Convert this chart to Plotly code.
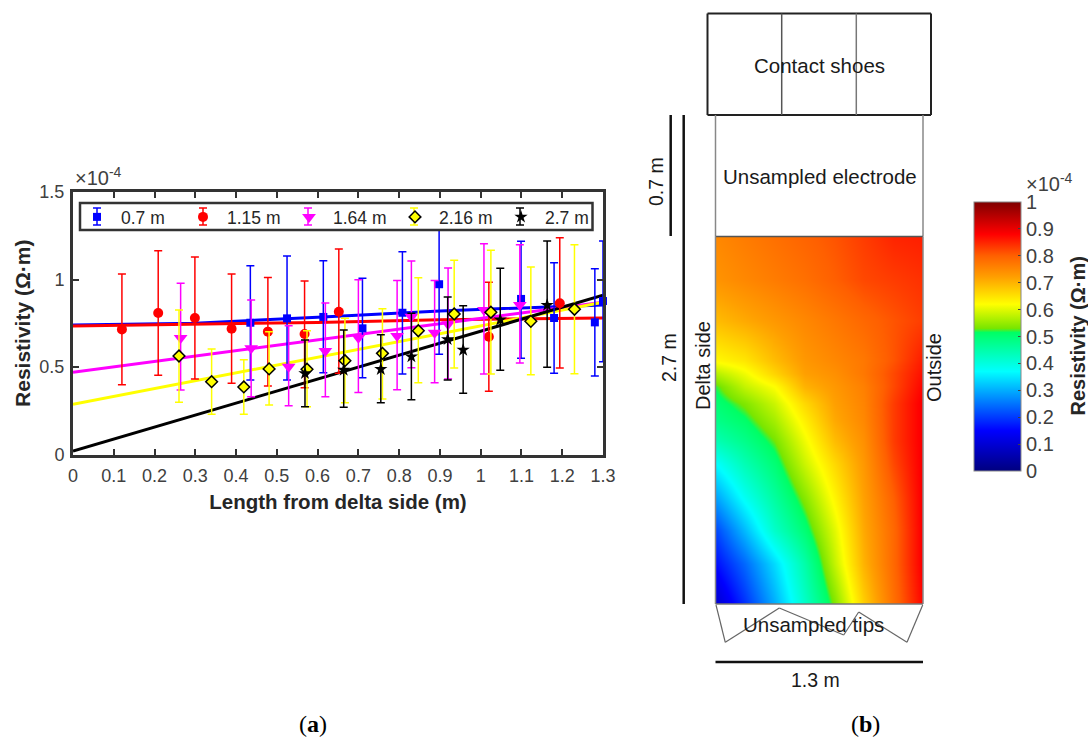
import plotly.graph_objects as go

W, H = 1088, 737
fx = lambda p: p / W
fy = lambda p: 1 - p / H

names = ["0.7 m", "1.15 m", "1.64 m", "2.16 m", "2.7 m"]
colors = ["#0000ff", "#ff0000", "#ff00ff", "#ffff00", "#000000"]

x_07 = [.435, .525, .614, .71, .808, .898, 1.099, 1.18, 1.28, 1.30]
y_07 = [.753, .778, .786, .721, .81, .973, .889, .78, .755, .877]
hi_07 = [1.079, 1.134, 1.107, 1.007, 1.159, 1.373, 1.218, 1.096, 1.062, 1.22]
lo_07 = [.426, .426, .467, .439, .46, .573, .55, .464, .449, .53]

x_115 = [.12, .209, .299, .389, .478, .568, .652, 1.02, 1.194]
y_115 = [.715, .809, .78, .719, .702, .689, .816, .673, .864]
hi_115 = [1.031, 1.165, 1.129, 1.031, 1.012, .991, 1.174, .984, 1.239]
lo_115 = [.399, .453, .431, .407, .391, .382, .464, .361, .494]

x_164 = [.264, .437, .529, .619, .70, .795, .83, .887, .92, 1.008, 1.096]
y_164 = [.666, .607, .502, .591, .667, .677, .787, .696, .744, .826, .854]
hi_164 = [.979, .883, .736, .866, .999, .995, 1.106, .995, 1.066, 1.205, 1.199]
lo_164 = [.369, .33, .279, .33, .355, .37, .496, .41, .431, .46, .523]

x_216 = [.26, .34, .419, .481, .574, .667, .759, .847, .935, 1.025, 1.123, 1.23]
y_216 = [.563, .416, .386, .489, .487, .536, .578, .707, .803, .813, .761, .83]
hi_216 = [.826, .603, .542, .702, .707, .778, .833, 1.01, 1.11, 1.167, 1.071, 1.199]
lo_216 = [.298, .23, .23, .283, .273, .296, .317, .41, .494, .46, .456, .462]

x_27 = [.569, .664, .755, .83, .919, .957, 1.048, 1.163]
y_27 = [.464, .483, .487, .559, .658, .597, .77, .854]
hi_27 = [.654, .711, .685, .807, .9, .85, 1.064, 1.22]
lo_27 = [.273, .27, .296, .313, .426, .35, .481, .498]

line_x = [0, .3, .6, .9, 1.3]
line_07 = [.74, .75, .785, .82, .855]
line_115 = [.735, .745, .755, .77, .78]
line_164 = [.47, .562, .654, .746, .87]
line_216 = [.287, .422, .556, .69, .87]
line_27 = [.02, .226, .432, .638, .91]

x_ticks = [0, .1, .2, .3, .4, .5, .6, .7, .8, .9, 1, 1.1, 1.2, 1.3]
x_labels = ["0", "0.1", "0.2", "0.3", "0.4", "0.5", "0.6", "0.7", "0.8", "0.9", "1", "1.1", "1.2", "1.3"]
y_ticks = [0, .5, 1, 1.5]
y_labels = ["0", "0.5", "1", "1.5"]

# field of resistivity (x 1e-4), rows from the top of the sampled electrode (0.7 m) downward
heat_x = [0, .184, .371, .557, .743, .93, 1.117, 1.3]
heat_y = [.7, .936, 1.155, 1.373, 1.445, 1.518, 1.609, 1.7, 1.809, 1.936, 2.118, 2.3, 2.482, 2.7]
row_0 = [.75, .765, .78, .795, .81, .83, .85, .855]
row_1 = [.735, .75, .765, .78, .80, .82, .83, .84]
row_2 = [.69, .71, .73, .75, .77, .79, .81, .83]
row_3 = [.625, .645, .69, .73, .75, .77, .81, .86]
row_4 = [.57, .61, .665, .72, .74, .77, .82, .87]
row_5 = [.52, .58, .62, .70, .73, .76, .82, .88]
row_6 = [.50, .535, .585, .66, .72, .755, .83, .89]
row_7 = [.48, .51, .56, .635, .71, .75, .83, .89]
row_8 = [.44, .48, .53, .61, .69, .74, .83, .89]
row_9 = [.37, .44, .50, .585, .66, .73, .82, .89]
row_10 = [.29, .38, .46, .54, .63, .72, .80, .89]
row_11 = [.21, .31, .42, .50, .60, .71, .79, .89]
row_12 = [.16, .24, .34, .45, .58, .70, .79, .89]
row_13 = [.09, .19, .30, .42, .535, .67, .78, .88]
heat_z = [row_0, row_1, row_2, row_3, row_4, row_5, row_6, row_7, row_8, row_9, row_10, row_11, row_12, row_13]
bar_ticks = [0, .1, .2, .3, .4, .5, .6, .7, .8, .9, 1]
bar_labels = ["0", "0.1", "0.2", "0.3", "0.4", "0.5", "0.6", "0.7", "0.8", "0.9", "1"]
scale = [[0, "#00007f"], [.15, "#0000ff"], [.37, "#00ffff"], [.515, "#00ff64"], [.53, "#78e600"],
         [.62, "#ffff00"], [.72, "#ffa000"], [.80, "#ff6000"], [.88, "#ff0000"], [1, "#7f0000"]]

series = [
    (x_07, y_07, hi_07, lo_07, line_07, "square", 8, "#0000ff", 0),
    (x_115, y_115, hi_115, lo_115, line_115, "circle", 10, "#ff0000", 0),
    (x_164, y_164, hi_164, lo_164, line_164, "triangle-down", 12, "#ff00ff", 0),
    (x_216, y_216, hi_216, lo_216, line_216, "diamond", 9, "#ffff00", 1.5),
    (x_27, y_27, hi_27, lo_27, line_27, "star", 10, "#000000", 0),
]

fig = go.Figure()
for i, (xs, ys, hi, lo, ln, sym, size, mc, lw) in enumerate(series):
    fig.add_trace(go.Scatter(x=line_x, y=ln, mode="lines", showlegend=False, hoverinfo="skip",
                             line=dict(color=colors[i], width=3), xaxis="x", yaxis="y"))
for i, (xs, ys, hi, lo, ln, sym, size, mc, lw) in enumerate(series):
    fig.add_trace(go.Scatter(
        x=xs, y=ys, name=names[i], mode="markers", cliponaxis=False, xaxis="x", yaxis="y",
        marker=dict(symbol=sym, size=size, color=mc, line=dict(color="#000000", width=lw)),
        error_y=dict(type="data", symmetric=False, array=[h - v for h, v in zip(hi, ys)],
                     arrayminus=[v - l for v, l in zip(ys, lo)],
                     color=colors[i], thickness=1.5, width=4),
    ))

fig.add_trace(go.Heatmap(
    x=heat_x, y=heat_y, z=heat_z, zmin=0, zmax=1, zsmooth="best", colorscale=scale,
    xaxis="x2", yaxis="y2", showlegend=False,
    colorbar=dict(x=fx(974), xanchor="left", xpad=0, ypad=0, y=fy(336.5), yanchor="middle",
                  thicknessmode="pixels", thickness=47, lenmode="pixels", len=269,
                  tickmode="array", tickvals=bar_ticks, ticktext=bar_labels,
                  ticks="inside", ticklen=3, tickcolor="#404040",
                  tickfont=dict(family="Liberation Sans", size=20, color="#404040"),
                  outlinecolor="#888888", outlinewidth=1),
))

shapes = []
def line(x0, y0, x1, y1, color="#888888", width=1.5):
    shapes.append(dict(type="line", xref="paper", yref="paper", layer="above",
                       x0=fx(x0), y0=fy(y0), x1=fx(x1), y1=fy(y1),
                       line=dict(color=color, width=width)))

# legend frame and error-bar glyphs
shapes.append(dict(type="rect", xref="paper", yref="paper", layer="above",
                   x0=fx(80), y0=fy(203), x1=fx(592.5), y1=fy(230),
                   fillcolor="#ffffff", line=dict(color="#333333", width=2.5)))
for cx, c in zip([97, 203, 308, 414, 520], colors):
    line(cx, 208, cx, 225, c, 1.5)
    line(cx - 4, 208, cx + 4, 208, c, 1.5)
    line(cx - 4, 225, cx + 4, 225, c, 1.5)

# schematic
for seg in [(707.5, 13.5, 931, 13.5), (707.5, 115, 931, 115), (707.5, 13.5, 707.5, 115), (931, 13.5, 931, 115)]:
    line(*seg, "#222222", 2)
line(781.7, 13.5, 781.7, 115, "#555555", 1.5)
line(856.3, 13.5, 856.3, 115, "#777777", 1.5)
line(715.5, 115, 715.5, 236.5)
line(923, 115, 923, 236.5)
line(715.5, 236.5, 923, 236.5, "#555555", 1.5)
line(715.5, 236.5, 715.5, 604)
line(923, 236.5, 923, 604)
line(715.5, 604, 923, 604, "#777777", 1.5)
tips = [(716, 605), (725.3, 642.3), (779.3, 608), (843.7, 635), (858.7, 612), (907, 642.3), (922.7, 605)]
for a, b in zip(tips[:-1], tips[1:]):
    line(*a, *b, "#666666", 1.2)
line(670.7, 115, 670.7, 236, "#111111", 2.5)
line(683.7, 115, 683.7, 604, "#111111", 2.5)
line(715.5, 662, 923, 662, "#111111", 2.5)

def text(t, x, y, size=20.5, rot=0, fam="Liberation Sans", color="#1a1a1a"):
    return dict(text=t, x=fx(x), y=fy(y), xref="paper", yref="paper", showarrow=False, textangle=rot,
                xanchor="center", yanchor="middle", font=dict(family=fam, size=size, color=color))

annotations = [
    text("Contact shoes", 819, 65),
    text("Unsampled electrode", 820, 176),
    text("Unsampled tips", 813, 624),
    text("1.3 m", 815, 680, 19.5),
    text("0.7 m", 656, 182, 19.5, -90),
    text("2.7 m", 669, 358, 19.5, -90),
    text("Delta side", 703, 366, 20, -90),
    text("Outside", 934, 368, 20, -90),
    text("(<b>a</b>)", 313, 724, 24, 0, "Liberation Serif", "#000000"),
    text("(<b>b</b>)", 865, 724, 24, 0, "Liberation Serif", "#000000"),
    text("×10<sup>-4</sup>", 98, 176, 20, 0, color="#404040"),
    text("×10<sup>-4</sup>", 1049, 183, 20, 0, color="#404040"),
    text("<b>Resistivity (Ω·m)</b>", 1077, 336.5, 20, -90, color="#262626"),
]

tickfont = dict(family="Liberation Sans", size=18, color="#404040")
fig.update_layout(
    width=W, height=H, autosize=False,
    margin=dict(l=0, r=0, t=0, b=0, autoexpand=False), paper_bgcolor="#ffffff", plot_bgcolor="#ffffff",
    xaxis=dict(domain=[fx(73), fx(603)], range=[0, 1.3], tickmode="array", tickvals=x_ticks, ticktext=x_labels,
               ticks="inside", ticklen=6, tickwidth=1.5, tickcolor="#333333", showline=True, linewidth=3,
               linecolor="#333333", mirror="ticks", showgrid=False, zeroline=False, tickfont=tickfont,
               ticklabelstandoff=3,
               title=dict(text="<b>Length from delta side (m)</b>", standoff=10,
                          font=dict(family="Liberation Sans", size=20.5, color="#262626"))),
    yaxis=dict(domain=[fy(454.5), fy(192)], range=[0, 1.5], tickmode="array", tickvals=y_ticks, ticktext=y_labels,
               ticks="inside", ticklen=6, tickwidth=1.5, tickcolor="#333333", showline=True, linewidth=3,
               linecolor="#333333", mirror="ticks", showgrid=False, zeroline=False, tickfont=tickfont,
               ticklabelstandoff=2,
               title=dict(text="<b>Resistivity (Ω·m)</b>", standoff=4,
                          font=dict(family="Liberation Sans", size=21, color="#262626"))),
    xaxis2=dict(domain=[fx(715.5), fx(923)], range=[0, 1.3], visible=False, anchor="y2"),
    yaxis2=dict(domain=[fy(604), fy(236.5)], range=[2.7, .7], visible=False, anchor="x2"),
    legend=dict(orientation="h", x=fx(73), y=fy(199), xanchor="left", yanchor="top", bgcolor="rgba(0,0,0,0)",
                borderwidth=0, itemwidth=38, entrywidth=53, entrywidthmode="pixels", itemclick=False,
                font=dict(family="Liberation Sans", size=17.5, color="#262626")),
    shapes=shapes, annotations=annotations, showlegend=True,
)
fig.write_html("out.html", post_script="document.body.style.margin='0';", config={"displayModeBar": False})
